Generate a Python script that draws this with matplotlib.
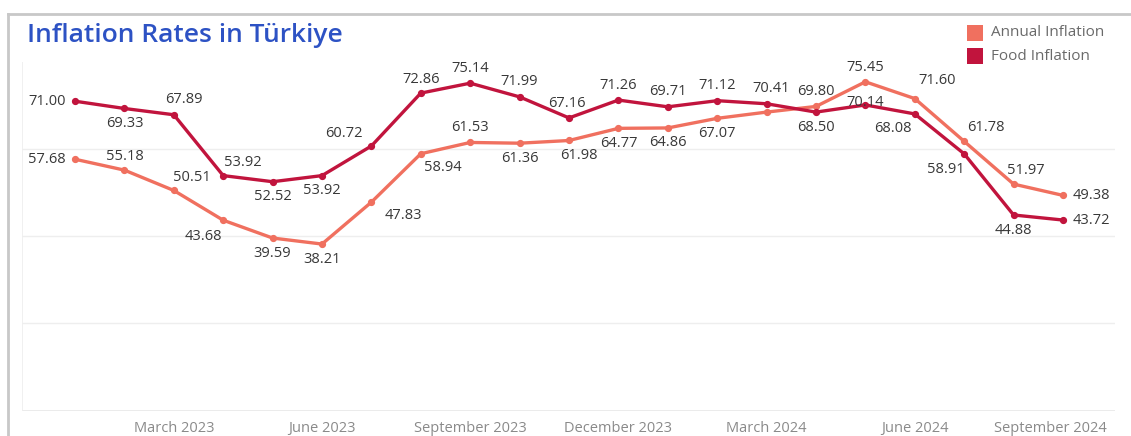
import matplotlib
matplotlib.use("Agg")
import matplotlib.pyplot as plt
import matplotlib.transforms as mtransforms
from matplotlib.lines import Line2D
from matplotlib.patches import Rectangle

# Monthly series, January 2023 - September 2024
months = ["Jan 2023", "Feb 2023", "Mar 2023", "Apr 2023", "May 2023", "Jun 2023",
          "Jul 2023", "Aug 2023", "Sep 2023", "Oct 2023", "Nov 2023", "Dec 2023",
          "Jan 2024", "Feb 2024", "Mar 2024", "Apr 2024", "May 2024", "Jun 2024",
          "Jul 2024", "Aug 2024", "Sep 2024"]
annual_inflation = [57.68, 55.18, 50.51, 43.68, 39.59, 38.21, 47.83, 58.94, 61.53, 61.36,
                    61.98, 64.77, 64.86, 67.07, 68.50, 69.80, 75.45, 71.60, 61.78, 51.97, 49.38]
food_inflation = [71.00, 69.33, 67.89, 53.92, 52.52, 53.92, 60.72, 72.86, 75.14, 71.99,
                  67.16, 71.26, 69.71, 71.12, 70.41, 68.50, 70.14, 68.08, 58.91, 44.88, 43.72]
tick_months = [2, 5, 8, 11, 14, 17, 20]
tick_labels = ["March 2023", "June 2023", "September 2023", "December 2023",
               "March 2024", "June 2024", "September 2024"]

ANNUAL_COLOR = "#f0705f"
FOOD_COLOR = "#c1143d"
LABEL_COLOR = "#383838"
FONT = "Open Sans"

W, H = 1131, 436
fig = plt.figure(figsize=(W / 100, H / 100), dpi=100)
fig.patch.set_facecolor("white")

# Outer frame (left and top edges)
fig.add_artist(Line2D([8 / W, 8 / W], [0, 1 - 14 / H], transform=fig.transFigure,
                      color="#c8c8c8", lw=2.0))
fig.add_artist(Line2D([8 / W, 1], [1 - 14 / H, 1 - 14 / H], transform=fig.transFigure,
                      color="#c8c8c8", lw=2.0))

left, right, bottom, top = 22, 1115, 410.5, 62
ax = fig.add_axes([left / W, (H - bottom) / H, (right - left) / W, (bottom - top) / H])
x = list(range(len(months)))
ax.set_xlim(-(75 - left) / 49.4, 20 + (right - 1063) / 49.4)
ax.set_ylim(0, 80)

for g in [20, 40, 60]:
    ax.axhline(g, color="#eeeeee", lw=1.0, zorder=0)
ax.axhline(0, color="#e8e8e8", lw=1.2, zorder=0)
ax.axvline(ax.get_xlim()[0], color="#eeeeee", lw=1.2, zorder=0)

ax.plot(x, annual_inflation, color=ANNUAL_COLOR, lw=2.4, marker="o", ms=4.2, zorder=3)
ax.plot(x, food_inflation, color=FOOD_COLOR, lw=2.4, marker="o", ms=4.2, zorder=4)

for s in ax.spines.values():
    s.set_visible(False)
ax.set_yticks([])
ax.set_xticks(tick_months)
ax.set_xticklabels(tick_labels, fontsize=10.5, color="#8a8a8a", family=FONT)
ax.tick_params(axis="x", length=0, pad=7.5)
# keep the last month label inside the frame
last = ax.get_xticklabels()[-1]
last.set_transform(last.get_transform() +
                   mtransforms.ScaledTranslation(-13 / 100, 0, fig.dpi_scale_trans))

# Value labels: (dx, dy) in pixels relative to the point; None hides the label
annual_offsets = [(-28, 0), (0, 14), (18, 13), (-20, -16), (0, -15), (0, -15), (32, -13),
                  (22, -14), (0, 15), (0, -15), (10, -15), (0, -15), (0, -15), (0, -15),
                  None, (0, 15), (0, 14), (22, 18), (22, 14), (12, 14), (28, 0)]
food_offsets = [(-28, 0), (0, -15), (10, 15), (20, 13), (0, -15), (0, -15), (-28, 12),
                (0, 14), (0, 15), (0, 15), (-2, 14), (0, 15), (0, 15), (0, 15),
                (5, 15), (0, -15), (0, 2), (-22, -15), (-18, -16), (0, -16), (28, 0)]

for vals, offs in [(annual_inflation, annual_offsets), (food_inflation, food_offsets)]:
    for i, (v, o) in enumerate(zip(vals, offs)):
        if o is None:
            continue
        ax.annotate(f"{v:.2f}", (i, v), xytext=o, textcoords="offset pixels",
                    ha="center", va="center", fontsize=10.5, color=LABEL_COLOR,
                    family=FONT, fontweight="medium", zorder=6)

# Title
fig.text(27 / W, 1 - 35 / H, "Inflation Rates in Türkiye", fontsize=19, color="#2d52c4",
         family=FONT, fontweight="semibold", va="center", ha="left")

# Legend
for k, (name, col) in enumerate([("Annual Inflation", ANNUAL_COLOR),
                                  ("Food Inflation", FOOD_COLOR)]):
    yc = 33 + 23 * k
    fig.add_artist(Rectangle((967 / W, 1 - (yc + 8) / H), 16 / W, 16 / H,
                             transform=fig.transFigure, color=col, lw=0))
    fig.text(991 / W, 1 - yc / H, name, fontsize=11, color="#6a6a6a", family=FONT,
             va="center", ha="left")

fig.savefig("out.png", dpi=100)
